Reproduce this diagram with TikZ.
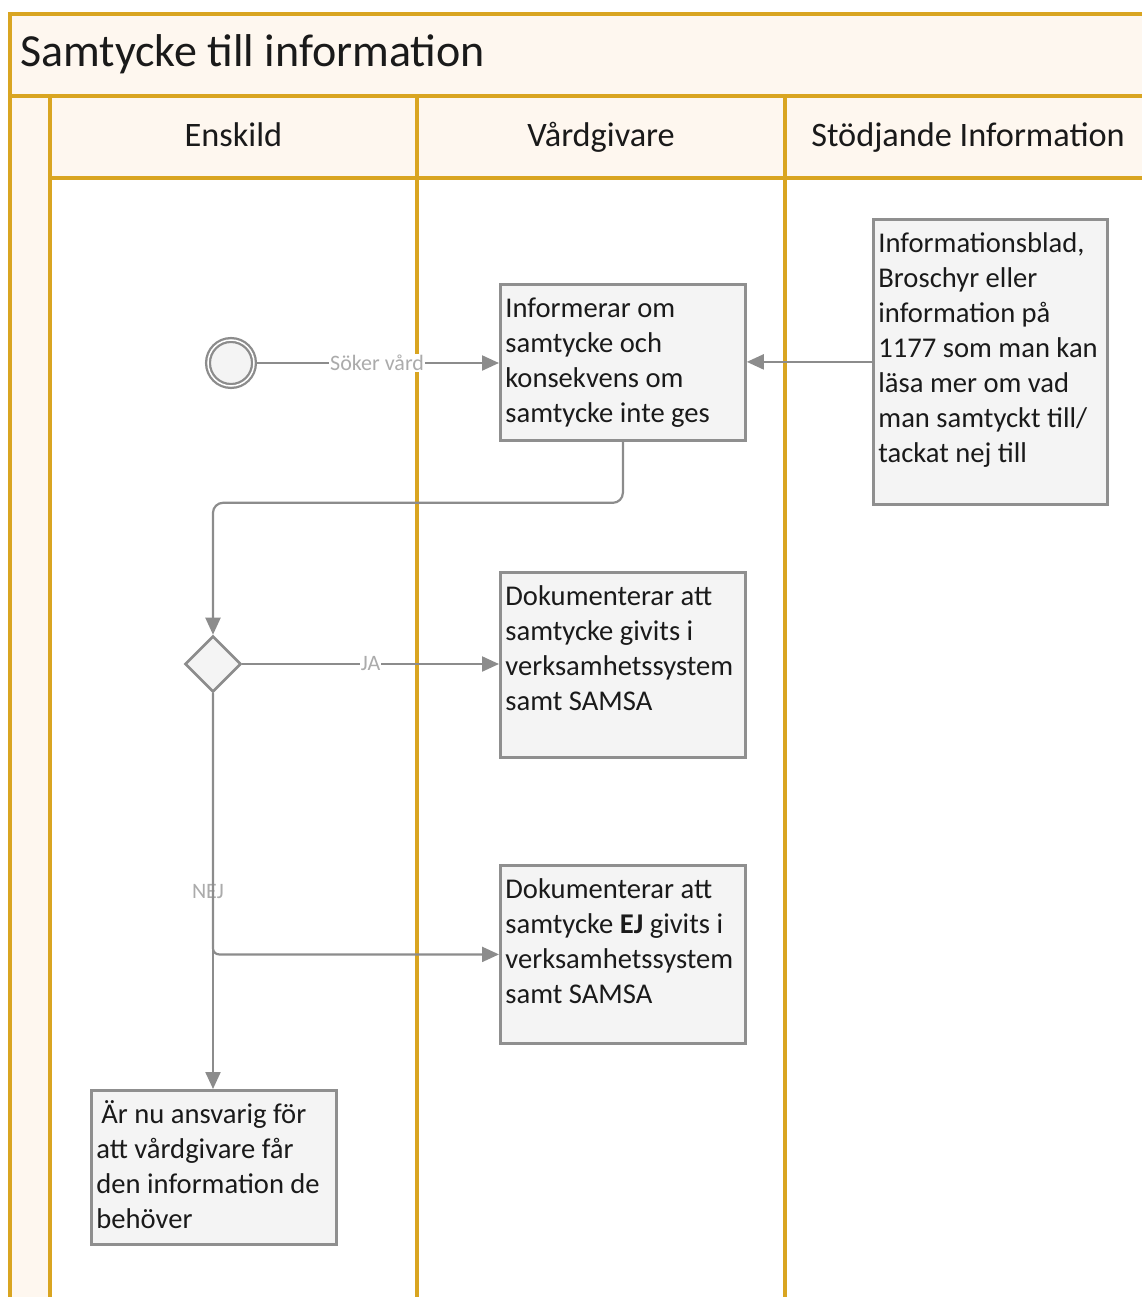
\documentclass[tikz,border=0pt]{standalone}
\usepackage{fontspec}
\setmainfont{Carlito}
\usetikzlibrary{shapes.geometric,arrows.meta,calc}
\definecolor{lanec}{HTML}{D9A521}
\definecolor{cream}{HTML}{FEF7EF}
\definecolor{boxfill}{HTML}{F4F4F4}
\definecolor{boxline}{HTML}{8F8F8F}
\definecolor{flowc}{HTML}{8C8C8C}
\definecolor{lblc}{HTML}{ABABAB}
\definecolor{ink}{HTML}{1A1A1A}
\newcommand{\btext}[3]{\parbox[c][#2][t]{#1}{\raggedright\vspace*{8.5pt}\strut #3\par}}
\tikzset{
  laneline/.style={draw=lanec, line width=3.4pt},
  taskbox/.style={draw=boxline, fill=boxfill, line width=2.8pt, rectangle, inner xsep=5pt, inner ysep=0pt, anchor=north west, text=ink, font=\fontsize{28.6pt}{35pt}\selectfont},
  flowarr/.style={draw=flowc, line width=2.2pt, -{Triangle[length=17pt,width=15pt]}},
  flowlbl/.style={fill=white, text=lblc, inner sep=1pt, font=\fontsize{22pt}{26pt}\selectfont},
  headtxt/.style={anchor=base, inner sep=0pt, text=ink, font=\fontsize{34.3pt}{40pt}\selectfont}
}
\begin{document}
\begin{tikzpicture}[x=1pt,y=-1pt]
\useasboundingbox (0,0) rectangle (1142,1297);
% pool backgrounds
\fill[cream] (10,14) rectangle (1142,96);
\fill[cream] (10,96) rectangle (50,1297);
\fill[cream] (50,96) rectangle (1142,178);
% pool lines
\draw[laneline] (1142,14) -- (10,14) -- (10,1297);
\draw[laneline] (10,96) -- (1142,96);
\draw[laneline] (50,178) -- (1142,178);
\draw[laneline] (50,96) -- (50,1297);
\draw[laneline] (417,96) -- (417,1297);
\draw[laneline] (785,96) -- (785,1297);
% titles
\node[anchor=base west, inner sep=0pt, text=ink, font=\fontsize{46pt}{55pt}\selectfont] (title) at (20,67) {Samtycke till information};
\node[headtxt] (h1) at (233.5,147) {Enskild};
\node[headtxt] (h2) at (601,147) {Vårdgivare};
\node[headtxt] (h3) at (968,147) {Stödjande Information};
% nodes
\node[circle, minimum size=46pt, inner sep=0pt, draw=flowc, fill=boxfill, line width=2.3pt, double=white, double distance=1.5pt] (start) at (231,363) {};
\node[taskbox] (b1) at (499,283) {\btext{235pt}{156pt}{Informerar om\\samtycke och\\konsekvens om\\samtycke inte ges}};
\node[taskbox] (info) at (872,218) {\btext{224pt}{285pt}{Informationsblad,\\Broschyr eller\\information på\\1177 som man kan\\läsa mer om vad\\man samtyckt till/\\tackat nej till}};
\node[diamond, aspect=1, draw=flowc, fill=boxfill, line width=2.6pt, minimum width=56pt, minimum height=56pt, inner sep=0pt] (dia) at (213,664) {};
\node[taskbox] (b2) at (499,571) {\btext{235pt}{185pt}{Dokumenterar att\\samtycke givits i\\verksamhetssystem\\samt SAMSA}};
\node[taskbox] (b3) at (499,864) {\btext{235pt}{178pt}{Dokumenterar att\\samtycke \textbf{EJ} givits i\\verksamhetssystem\\samt SAMSA}};
\node[taskbox] (b4) at (90,1089) {\btext{235pt}{154pt}{\hspace*{5pt}Är nu ansvarig för\\att vårdgivare får\\den information de\\behöver}};
% connectors
\draw[flowarr] (start) -- node[flowlbl] (l1) {Söker vård} (start -| b1.west);
\draw[flowarr] (info.west) -- (info.west -| b1.east);
\draw[flowarr, rounded corners=10pt] (b1.south) -- ++(0,61) -| (dia.north);
\draw[flowarr] (dia.east) -- node[flowlbl] (l2) {JA} (dia -| b2.west);
\draw[flowarr] (dia.south) -- node[flowlbl, xshift=-5pt] (l3) {NEJ} (dia.south |- b4.north);
\draw[flowarr, rounded corners=6pt] (dia.south) |- (b3.west);
\end{tikzpicture}
\end{document}
